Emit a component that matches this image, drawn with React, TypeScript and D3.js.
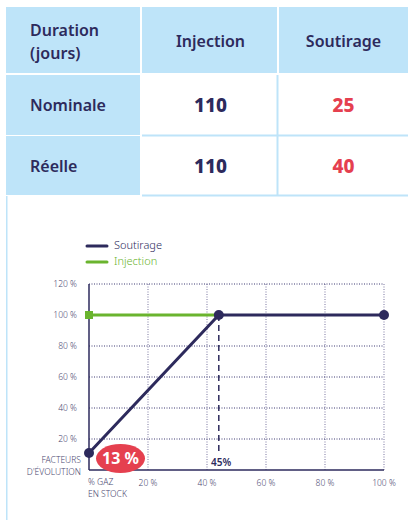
import * as d3 from "d3";
import React from "react";

// table values
const columns = ["Injection", "Soutirage"];
const rowLabels = ["Nominale", "Réelle"];
const injectionDays = [110, 110];
const soutirageDays = [25, 40];

// chart values (% gaz en stock -> facteur d'évolution %)
const soutirageX = [0, 44, 100];
const soutirageY = [11, 100, 100];
const injectionX = [0, 43];
const injectionY = [100, 100];
const xTicks = [20, 40, 60, 80, 100];
const yTicks = [20, 40, 60, 80, 100, 120];
const kneeLabel = "45%";
const startLabel = "13 %";

const NAVY = "#2d2a5c";
const GREEN = "#6ab42e";
const RED = "#e5404f";
const BLUE = "#bee4f9";
const GREY = "#4a4870";
const FONT = "'Noto Sans', sans-serif";

export default function App() {
  const x = d3.scaleLinear().domain([0, 100]).range([89, 384]);
  const y = d3.scaleLinear().domain([0, 120]).range([470, 284]);

  const line = d3.line<number>().x((d, i) => x(soutirageX[i])).y((d) => y(d));
  const injLine = d3.line<number>().x((d, i) => x(injectionX[i])).y((d) => y(d));

  // table geometry
  const colX = [6, 142, 279, 408];
  const rowY = [7, 75, 136, 196];

  return (
    <svg width={408} height={520} style={{ position: "absolute", left: 0, top: 0 }} fontFamily={FONT}>
      <rect width={408} height={520} fill="#fff" />
      {/* header row */}
      {[0, 1, 2].map((c) => (
        <rect key={"h" + c} x={colX[c]} y={rowY[0]} width={colX[c + 1] - colX[c] - (c < 2 ? 2 : 0)} height={rowY[1] - rowY[0] - 2} fill={BLUE} />
      ))}
      {/* body rows */}
      {rowLabels.map((r, i) => (
        <g key={r}>
          <rect x={colX[0]} y={rowY[i + 1]} width={colX[1] - colX[0] - 2} height={rowY[i + 2] - rowY[i + 1] - 1} fill={BLUE} />
          <line x1={colX[1]} x2={408} y1={rowY[i + 2] - 0.5} y2={rowY[i + 2] - 0.5} stroke={BLUE} strokeWidth={2} />
          <line x1={colX[2] - 1.5} x2={colX[2] - 1.5} y1={rowY[i + 1]} y2={rowY[i + 2]} stroke={BLUE} strokeWidth={2} />
          <text x={30} y={(rowY[i + 1] + rowY[i + 2]) / 2} dy="0.35em" fontSize={16} fontWeight={600} fill={NAVY}>{r}</text>
          <text x={(colX[1] + colX[2]) / 2} y={(rowY[i + 1] + rowY[i + 2]) / 2} dy="0.35em" textAnchor="middle" fontSize={19} fontWeight={800} fill={NAVY}>{injectionDays[i]}</text>
          <text x={(colX[2] + colX[3]) / 2} y={(rowY[i + 1] + rowY[i + 2]) / 2} dy="0.35em" textAnchor="middle" fontSize={19} fontWeight={800} fill={RED}>{soutirageDays[i]}</text>
        </g>
      ))}
      <text x={30} y={30} dy="0.35em" fontSize={16} fontWeight={600} fill={NAVY}>Duration</text>
      <text x={30} y={53} dy="0.35em" fontSize={16} fontWeight={600} fill={NAVY}>(jours)</text>
      {columns.map((c, i) => (
        <text key={c} x={(colX[i + 1] + colX[i + 2]) / 2} y={41} dy="0.35em" textAnchor="middle" fontSize={16} fontWeight={600} fill={NAVY}>{c}</text>
      ))}
      {/* chart panel left border */}
      <rect x={6} y={196} width={1.5} height={324} fill={BLUE} />

      {/* legend */}
      <line x1={87} x2={107} y1={246} y2={246} stroke={NAVY} strokeWidth={3} strokeLinecap="round" />
      <text x={114} y={245} dy="0.35em" fontSize={11} fontWeight={300} fill={NAVY}>Soutirage</text>
      <line x1={87} x2={107} y1={262} y2={262} stroke={GREEN} strokeWidth={3} strokeLinecap="round" />
      <text x={114} y={261.5} dy="0.35em" fontSize={11} fontWeight={300} fill={GREEN}>Injection</text>

      {/* grid */}
      {xTicks.map((t) => (
        <line key={"vx" + t} x1={x(t)} x2={x(t)} y1={y(120)} y2={y(0)} stroke="#8f8cb0" strokeWidth={1.2} strokeDasharray="1,1.5" />
      ))}
      {yTicks.map((t) => (
        <line key={"hy" + t} x1={x(0)} x2={x(100)} y1={y(t)} y2={y(t)} stroke="#3d3a72" strokeWidth={1} strokeDasharray="1,1.5" />
      ))}
      <line x1={x(0)} x2={x(0)} y1={y(120)} y2={y(0)} stroke={NAVY} strokeWidth={1.5} />
      <line x1={x(0)} x2={x(100)} y1={y(0)} y2={y(0)} stroke={NAVY} strokeWidth={1.5} />

      {/* y tick labels */}
      {yTicks.map((t) => (
        <text key={"yl" + t} x={77} y={y(t)} dy="0.35em" textAnchor="end" fontSize={8.5} fontWeight={300} fill={GREY}>{t} %</text>
      ))}
      <text x={81} y={460.5} dy="0.35em" textAnchor="end" fontSize={8.5} fontWeight={300} fill={GREY}>FACTEURS</text>
      <text x={81} y={472.5} dy="0.35em" textAnchor="end" fontSize={8.5} fontWeight={300} fill={GREY}>D'ÉVOLUTION</text>

      {/* x tick labels */}
      {xTicks.map((t) => (
        <text key={"xl" + t} x={x(t)} y={483} dy="0.35em" textAnchor="middle" fontSize={8.5} fontWeight={300} fill={GREY}>{t} %</text>
      ))}
      <text x={88} y={482} dy="0.35em" fontSize={8.5} fontWeight={300} fill={GREY}>% GAZ</text>
      <text x={88} y={494} dy="0.35em" fontSize={8.5} fontWeight={300} fill={GREY}>EN STOCK</text>

      {/* knee marker */}
      <line x1={x(soutirageX[1])} x2={x(soutirageX[1])} y1={y(100)} y2={y(12)} stroke={NAVY} strokeWidth={1.5} strokeDasharray="6,4" />
      <text x={211} y={462} dy="0.35em" fontSize={10} fontWeight={600} fill={NAVY}>{kneeLabel}</text>

      {/* series */}
      <path d={injLine(injectionY) || ""} fill="none" stroke={GREEN} strokeWidth={3} />
      <rect x={x(0) - 4} y={y(100) - 4} width={8} height={8} fill={GREEN} />
      <path d={line(soutirageY) || ""} fill="none" stroke={NAVY} strokeWidth={3} />
      {soutirageY.map((v, i) => (
        <circle key={"c" + i} cx={x(soutirageX[i])} cy={y(v)} r={5} fill={NAVY} />
      ))}

      {/* start label */}
      <ellipse cx={120.5} cy={458.5} rx={24.5} ry={14.5} fill={RED} />
      <text x={120.5} y={458.5} dy="0.36em" textAnchor="middle" fontSize={16} fontWeight={700} fill="#fff">{startLabel}</text>
    </svg>
  );
}
